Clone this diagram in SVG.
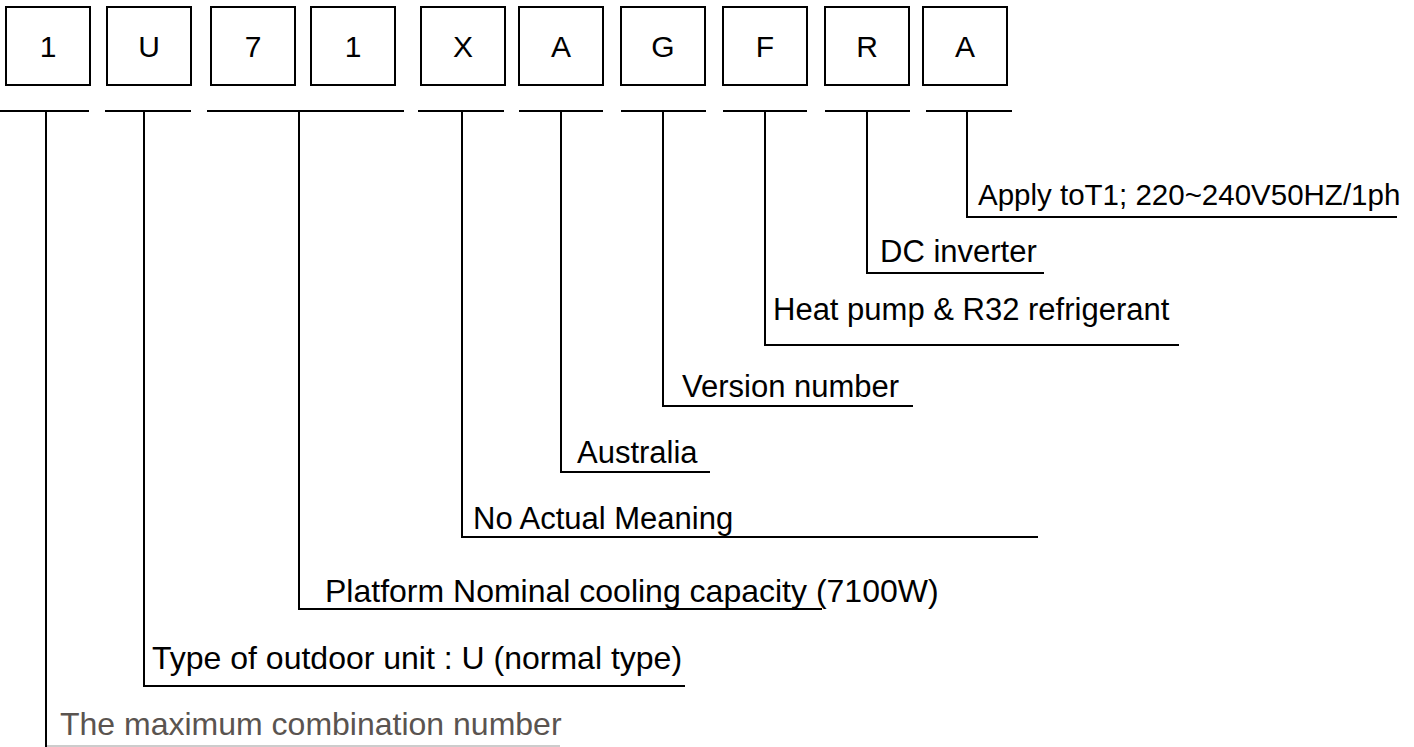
<svg xmlns="http://www.w3.org/2000/svg" width="1414" height="747" viewBox="0 0 1414 747">
<style>
.box{fill:#fff;stroke:#000;stroke-width:2}
.bt{font-family:"Liberation Sans",Arial,sans-serif;font-size:30px;fill:#000;text-anchor:middle}
.lbl{font-family:"Liberation Sans",Arial,sans-serif;font-size:31px;fill:#000}
.big{font-size:32px}
.ln{fill:none;stroke:#000;stroke-width:2}
</style>
<rect width="1414" height="747" fill="#fff"/>
<g id="n1"><rect class="box" x="6" y="7" width="84" height="78"/><text class="bt" x="48" y="57">1</text></g>
<g id="n2"><rect class="box" x="107" y="7" width="84" height="78"/><text class="bt" x="149" y="57">U</text></g>
<g id="n3"><rect class="box" x="211" y="7" width="84" height="78"/><text class="bt" x="253" y="57">7</text></g>
<g id="n4"><rect class="box" x="311" y="7" width="84" height="78"/><text class="bt" x="353" y="57">1</text></g>
<g id="n5"><rect class="box" x="421" y="7" width="84" height="78"/><text class="bt" x="463" y="57">X</text></g>
<g id="n6"><rect class="box" x="519" y="7" width="84" height="78"/><text class="bt" x="561" y="57">A</text></g>
<g id="n7"><rect class="box" x="621" y="7" width="84" height="78"/><text class="bt" x="663" y="57">G</text></g>
<g id="n8"><rect class="box" x="723" y="7" width="84" height="78"/><text class="bt" x="765" y="57">F</text></g>
<g id="n9"><rect class="box" x="825" y="7" width="84" height="78"/><text class="bt" x="867" y="57">R</text></g>
<g id="n10"><rect class="box" x="923" y="7" width="84" height="78"/><text class="bt" x="965" y="57">A</text></g>
<g id="connectors">
<path class="ln" d="M0 111H89M105 111H191M207 111H404M418 111H504M519 111H603M621 111H706M723 111H807M825 111H910M926 111H1012"/>
<path class="ln" d="M967 111V217H1397"/>
<path class="ln" d="M867 111V273H1044"/>
<path class="ln" d="M765 111V345H1179"/>
<path class="ln" d="M663 111V406H913"/>
<path class="ln" d="M561 111V472H710"/>
<path class="ln" d="M462 111V537H1038"/>
<path class="ln" d="M299 111V609H822"/>
<path class="ln" d="M144 111V686H685"/>
<path class="ln" d="M46 111V747"/>
<path d="M47 746H560" stroke="#ccc" stroke-width="2" fill="none"/>
</g>
<g id="labels">
<text class="lbl" x="978" y="205" style="font-size:29.5px">Apply toT1; 220~240V50HZ/1ph</text>
<text class="lbl" x="880" y="262">DC inverter</text>
<text class="lbl" x="773" y="320">Heat pump &amp; R32 refrigerant</text>
<text class="lbl" x="682" y="397">Version number</text>
<text class="lbl" x="577" y="463">Australia</text>
<text class="lbl" x="473" y="529">No Actual Meaning</text>
<text class="lbl big" x="325" y="602">Platform Nominal cooling capacity (7100W)</text>
<text class="lbl big" x="152" y="669">Type of outdoor unit : U (normal type)</text>
<text class="lbl big" x="60" y="735" style="fill:#5a5450">The maximum combination number</text>
</g>
</svg>
